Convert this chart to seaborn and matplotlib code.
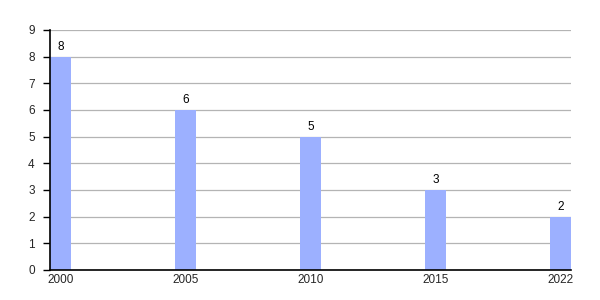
import matplotlib
matplotlib.use("Agg")
import matplotlib.pyplot as plt
import seaborn as sns
import pandas as pd

years = ["2000", "2005", "2010", "2015", "2022"]
values = [8, 6, 5, 3, 2]

sns.set_style("white", {"ytick.left": True})
plt.rcParams['font.family'] = ['Liberation Sans', 'DejaVu Sans']

df = pd.DataFrame({"year": years, "value": values})

fig = plt.figure(figsize=(6, 3), dpi=100)
ax = fig.add_axes([50/600, 30/300, 521/600, 240/300])

w = 0.168
sns.barplot(data=df, x="year", y="value", color="#9cb0ff", saturation=1,
            width=w, ax=ax, zorder=3, edgecolor="none", linewidth=0)

for i, v in enumerate(values):
    ax.text(i, v + 0.15, str(v), ha="center", va="bottom", fontsize=8.5, color="black")

ax.set_xlim(-w/2, len(years) - 1 + w/2)
ax.set_ylim(0, 9)
ax.set_yticks(range(0, 10))
ax.yaxis.grid(True, color="#b4b4b4", linewidth=0.9, zorder=0)
ax.set_axisbelow(True)
ax.set_xlabel("")
ax.set_ylabel("")
for s in ["top", "right"]:
    ax.spines[s].set_visible(False)
for s in ["left", "bottom"]:
    ax.spines[s].set_color("black")
    ax.spines[s].set_linewidth(1.2)
    ax.spines[s].set_zorder(5)
ax.yaxis.set_ticks_position("left")
ax.tick_params(axis="y", left=True, direction="out", length=5, width=1,
               color="black", labelsize=8.5, pad=6)
ax.tick_params(axis="x", bottom=False, length=0, labelsize=8.5, pad=3)

fig.savefig("out.png", dpi=100)
